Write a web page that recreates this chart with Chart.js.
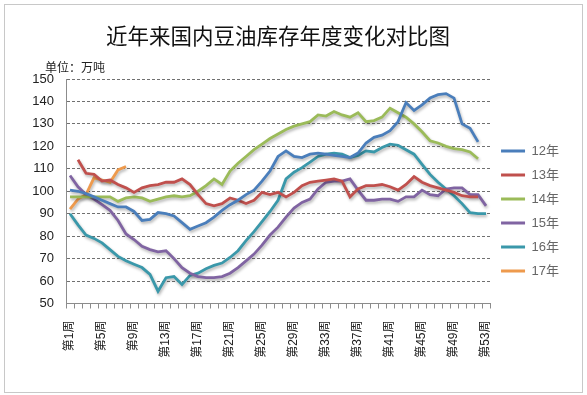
<!DOCTYPE html>
<html>
<head>
    <meta charset="utf-8">
    <title>近年来国内豆油库存年度变化对比图</title>
    <script src="https://cdn.jsdelivr.net/npm/chart.js"></script>
    <style>
        html, body { margin: 0; padding: 0; background: #fff; }
        #frame { position: absolute; left: 4px; top: 4px; width: 577px; height: 387px; border: 1px solid #c8c8c8; }
        #wrap { position: absolute; left: 0; top: 0; width: 587px; height: 395px; }
    </style>
</head>
<body>
<div id="frame"></div>
<div id="wrap"><canvas id="stockChart" width="587" height="395"></canvas></div>

<script>
    // week categories 第1周 .. 第53周, only every 4th one is printed
    var weekLabels = Array.from({length: 53}, (_, i) => '第' + (i + 1) + '周');

    var yearNames = ['12年', '13年', '14年', '15年', '16年', '17年'];
    var yearColors = ['#4A7EBB', '#C0504D', '#9BBB59', '#8064A2', '#3A98AA', '#EE9A4D'];

    // 万吨
    var y2012 = [100.5, 100, 99, 97.5, 96, 94.5, 93, 93, 91, 87,
                 87.5, 90.5, 90, 89, 86, 83, 84.5, 86, 88.5, 91.5,
                 94, 96, 98.5, 100.5, 104.5, 109, 115.5, 118, 115.5, 115,
                 116.5, 117, 116.5, 116, 115.5, 115, 117, 121.5, 124, 125,
                 127, 131, 139.5, 136, 138.5, 141.5, 143, 143.5, 141.5, 130,
                 128, 122, null];
    var y2013 = [null, 114, 108, 107.5, 104.5, 105, 103, 101.5, 99.5, 101.5,
                 102.5, 103, 104, 104, 105.5, 103, 98.5, 94.5, 93.5, 94.5,
                 97, 96, 94.5, 96, 99.5, 98.5, 99.5, 97.5, 99.5, 102.5,
                 104, 104.5, 105, 105.5, 104.5, 97.5, 101, 102.5, 102.5, 103,
                 102, 100.5, 103, 106.5, 104, 102.5, 101.5, 100.5, 99.5, 98,
                 97.5, 97.5, null];
    var y2014 = [97.5, 97.5, 97.5, 97.5, 97.5, 97.5, 95.5, 97, 97.5, 97,
                 95.5, 96.5, 97.5, 98, 97.5, 98, 100, 102.5, 105.5, 103,
                 109, 112.5, 115.5, 118.5, 121, 123.5, 125.5, 127.5, 129, 130,
                 131, 134, 133.5, 135.5, 134, 133, 135, 131, 131.5, 133,
                 137, 135, 133, 130, 126.5, 122.5, 121.5, 120, 119, 118.5,
                 117.5, 114.5, null];
    var y2015 = [107, 102, 98.5, 96.5, 94, 91.5, 87, 81, 78.5, 75.5,
                 74, 73, 73.5, 70, 66, 63.5, 62, 61.5, 61.5, 62,
                 63.5, 66, 69, 72, 76, 80.5, 84, 88.5, 92.5, 95,
                 96.5, 101, 104, 104.5, 104.5, 105.5, 100.5, 96, 96, 96.5,
                 96.5, 95.5, 97.5, 97.5, 100.5, 98.5, 98, 101, 101.5, 101.5,
                 98.5, 98.5, 93.5];
    var y2016 = [90, 85, 80.5, 79, 77, 74, 71, 69, 67.5, 66,
                 63, 55.5, 61.5, 62, 58.5, 62.5, 63.5, 65.5, 67, 68,
                 70.5, 73.5, 78, 82, 86.5, 91, 96, 105.5, 108.5, 110.5,
                 113, 115.5, 116.5, 117, 116.5, 115, 116, 118, 117.5, 119.5,
                 121, 120.5, 118.5, 116.5, 112, 107.5, 104, 101, 98, 94.5,
                 90.5, 90, 90];
    var y2017 = [92, 96.5, 98.5, 106, 105, 104, 109.5, 111];

    var yearValues = [y2012, y2013, y2014, y2015, y2016, y2017];

    var yTicks = {min: 50, max: 150, step: 10};

    // soft drop shadow under each line, like the Excel original
    var lineShadow = {
        id: 'lineShadow',
        beforeDatasetDraw(chart) {
            var c = chart.ctx;
            c.save();
            c.shadowColor = 'rgba(0, 0, 0, 0.3)';
            c.shadowBlur = 3;
            c.shadowOffsetX = 1;
            c.shadowOffsetY = 2;
        },
        afterDatasetDraw(chart) {
            chart.ctx.restore();
        }
    };

    // "单位：万吨" above the value axis
    var unitLabel = {
        id: 'unitLabel',
        afterDraw(chart) {
            var c = chart.ctx;
            var a = chart.chartArea;
            c.save();
            c.font = '12px "Noto Sans CJK SC", sans-serif';
            c.fillStyle = '#222';
            c.textBaseline = 'middle';
            c.fillText('单位：万吨', a.left - 21, a.top - 12);
            c.restore();
        }
    };

    var datasets = yearNames.map((name, i) => ({
        label: name,
        data: yearValues[i],
        borderColor: yearColors[i],
        backgroundColor: yearColors[i],
        borderWidth: 2.8,
        pointRadius: 0,
        pointHoverRadius: 0,
        tension: 0,
        fill: false
    }));

    var ctx = document.getElementById('stockChart').getContext('2d');
    new Chart(ctx, {
        type: 'line',
        data: {
            labels: weekLabels,
            datasets: datasets
        },
        plugins: [lineShadow, unitLabel],
        options: {
            responsive: false,
            animation: false,
            events: [],
            layout: {
                padding: {top: 10, left: 26, right: 18, bottom: 8}
            },
            plugins: {
                title: {
                    display: true,
                    fullSize: false,
                    text: '近年来国内豆油库存年度变化对比图',
                    color: '#111',
                    font: {size: 21.5, weight: 'normal', family: '"Noto Sans CJK SC", sans-serif'},
                    padding: {top: 13, bottom: 30.2}
                },
                legend: {
                    position: 'right',
                    align: 'start',
                    fullSize: false,
                    title: {
                        display: true,
                        text: ' ',
                        font: {size: 10},
                        padding: {top: 42.5, bottom: 0}
                    },
                    labels: {
                        boxWidth: 24,
                        boxHeight: 3,
                        padding: 11,
                        color: '#222',
                        font: {size: 13, family: '"Liberation Sans", "Noto Sans CJK SC", sans-serif'},
                        generateLabels(chart) {
                            return chart.data.datasets.map((ds, i) => ({
                                text: ds.label,
                                fillStyle: ds.borderColor,
                                strokeStyle: ds.borderColor,
                                lineWidth: 0,
                                hidden: false,
                                datasetIndex: i
                            }));
                        }
                    }
                },
                tooltip: {enabled: false}
            },
            scales: {
                x: {
                    offset: true,
                    grid: {
                        offset: true,
                        drawOnChartArea: false,
                        drawTicks: true,
                        tickLength: 5,
                        color: '#8c8c8c'
                    },
                    border: {display: true, color: '#8c8c8c'},
                    ticks: {
                        autoSkip: false,
                        minRotation: 90,
                        maxRotation: 90,
                        padding: 12,
                        color: '#222',
                        font: {size: 12, family: '"Liberation Sans", "Noto Sans CJK SC", sans-serif'},
                        callback: function (value, index) {
                            return index % 4 === 0 ? weekLabels[index] : '';
                        }
                    },
                    afterFit: function (scale) { scale.height = 83.5; }
                },
                y: {
                    min: yTicks.min,
                    max: yTicks.max,
                    grid: {
                        drawTicks: false,
                        lineWidth: 1,
                        color: c => (c.tick && c.tick.value === yTicks.min) ? 'rgba(0,0,0,0)' : '#707070'
                    },
                    border: {display: true, color: '#8c8c8c', dash: [3, 2]},
                    ticks: {
                        stepSize: yTicks.step,
                        padding: 12,
                        color: '#222',
                        font: {size: 13, family: '"Liberation Sans", sans-serif'}
                    },
                    afterFit: function (scale) { scale.width = 40; }
                }
            }
        }
    });
</script>
</body>
</html>
